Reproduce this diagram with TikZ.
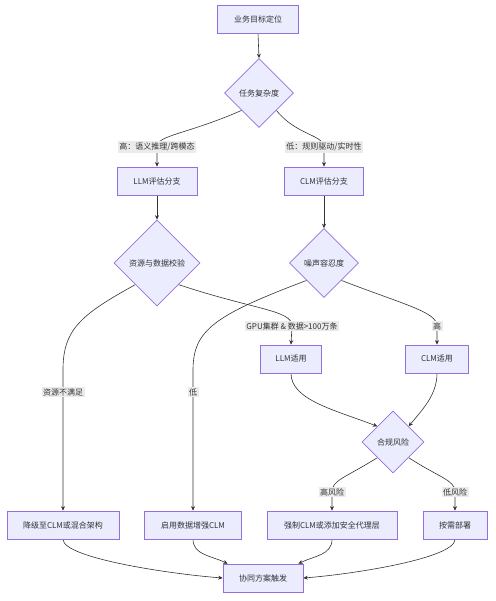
\documentclass[tikz,border=0pt]{standalone}
\usepackage{fontspec}
\setmainfont{Noto Sans CJK SC}
\usetikzlibrary{shapes.geometric,arrows.meta,backgrounds}
\definecolor{nodefill}{HTML}{ECECFF}
\definecolor{nodeline}{HTML}{9370DB}
\definecolor{txt}{HTML}{333333}
\definecolor{lblbg}{HTML}{EBEBEB}
\begin{document}
\begin{tikzpicture}[x=1pt,y=-1pt, font=\fontsize{8}{10}\selectfont, text=txt,
 box/.style={draw=nodeline, fill=nodefill, line width=0.7pt, minimum height=28pt, inner sep=2pt},
 dia/.style={draw=nodeline, fill=nodefill, line width=0.7pt, diamond, aspect=1, inner sep=0pt},
 lbl/.style={fill=lblbg, inner sep=1.5pt},
 conn/.style={draw=txt, line width=0.6pt, -{Stealth[length=4.5pt,width=4pt]}}]
\useasboundingbox (0,0) rectangle (495,601);

% nodes
\node[box, minimum width=81pt] (goal) at (258,19) {业务目标定位};
\node[dia, minimum width=69pt, minimum height=69pt] (d1) at (259,93) {任务复杂度};
\node[lbl] (l1) at (157,147) {高：语义推理/跨模态};
\node[lbl] (l2) at (324,147) {低：规则驱动/实时性};
\node[box, minimum width=80pt] (llmeval) at (157,181) {LLM评估分支};
\node[box, minimum width=79pt] (clmeval) at (324,181) {CLM评估分支};
\node[dia, minimum width=86pt, minimum height=86pt] (d2) at (157,263) {资源与数据校验};
\node[dia, minimum width=69pt, minimum height=69pt] (d3) at (324,263) {噪声容忍度};
\node[lbl] (lgpu) at (292,326) {GPU集群 \& 数据>100万条};
\node[lbl] (lhigh) at (437,326) {高};
\node[box, minimum width=61pt] (llmfit) at (291,359) {LLM适用};
\node[box, minimum width=63pt] (clmfit) at (437,359) {CLM适用};
\node[lbl] (lres) at (63,392) {资源不满足};
\node[lbl] (llow) at (193,392) {低};
\node[dia, minimum width=62pt, minimum height=62pt] (d4) at (393,442) {合规风险};
\node[lbl] (lhr) at (332,492) {高风险};
\node[lbl] (llr) at (455,492) {低风险};
\node[box, minimum width=112pt] (jiangji) at (63,525) {降级至CLM或混合架构};
\node[box, minimum width=97pt] (qiyong) at (193,525) {启用数据增强CLM};
\node[box, minimum width=130pt] (qiangzhi) at (332,525) {强制CLM或添加安全代理层};
\node[box, minimum width=64pt] (anxu) at (455,525) {按需部署};
\node[box, minimum width=80pt] (xietong) at (263,578) {协同方案触发};

\begin{pgfonlayer}{background}
\draw[conn] (goal.south) -- (d1.north);
\draw[conn] (d1.south west) .. controls (185,135) and (157,135) .. (l1.center) -- (llmeval.north);
\draw[conn] (d1.south east) .. controls (296,135) and (324,135) .. (l2.center) -- (clmeval.north);
\draw[conn] (llmeval.south) -- (d2.north);
\draw[conn] (clmeval.south) -- (d3.north);
\draw[conn] (d2.south west) .. controls (80,315) and (63,330) .. (63,370) -- (lres.center) -- (jiangji.north);
\draw[conn] (d2.south east) .. controls (255,310) and (292,310) .. (lgpu.center) -- (llmfit.north);
\draw[conn] (d3.south west) .. controls (215,315) and (193,330) .. (193,370) -- (llow.center) -- (qiyong.north);
\draw[conn] (d3.south east) .. controls (405,305) and (437,312) .. (lhigh.center) -- (clmfit.north);
\draw[conn] (llmfit.south) .. controls (291,400) and (335,410) .. (d4.north west);
\draw[conn] (clmfit.south) .. controls (437,395) and (422,410) .. (d4.north east);
\draw[conn] (d4.south west) .. controls (345,478) and (332,480) .. (lhr.center) -- (qiangzhi.north);
\draw[conn] (d4.south east) .. controls (440,478) and (455,480) .. (llr.center) -- (anxu.north);
\draw[conn] (jiangji.south) .. controls (63,558) and (170,574) .. (xietong.west);
\draw[conn] (qiyong.south) .. controls (193,555) and (212,556) .. ([xshift=5pt]xietong.north west);
\draw[conn] (qiangzhi.south) .. controls (332,555) and (314,556) .. ([xshift=-5pt]xietong.north east);
\draw[conn] (anxu.south) .. controls (455,558) and (355,574) .. (xietong.east);
\end{pgfonlayer}
\end{tikzpicture}
\end{document}
